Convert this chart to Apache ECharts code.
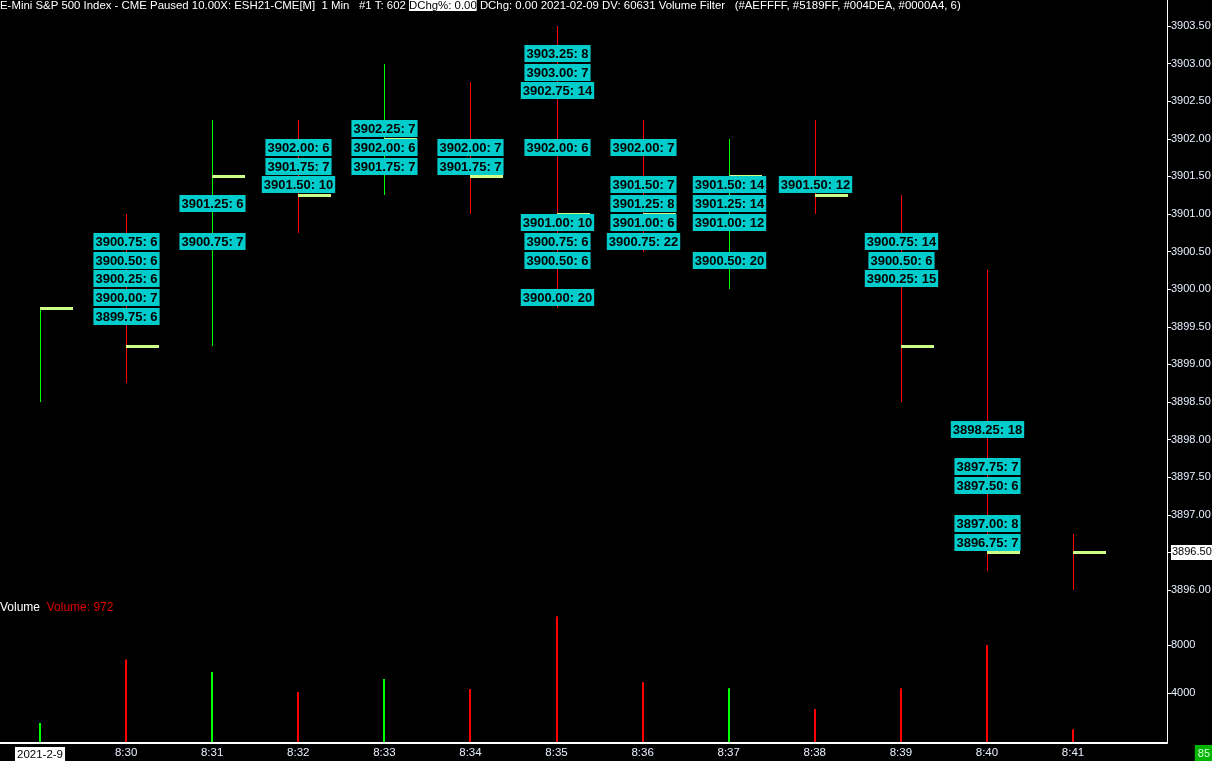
<!DOCTYPE html>
<html>
<head>
<meta charset="utf-8">
<script src="https://cdn.jsdelivr.net/npm/echarts@6/dist/echarts.min.js"></script>
<style>
html,body{margin:0;padding:0;background:#000;}
#chart{width:1212px;height:761px;}
</style>
</head>
<body>
<div id="chart"></div>
<script>
// ---- data ----
const times   = ['8:29','8:30','8:31','8:32','8:33','8:34','8:35','8:36','8:37','8:38','8:39','8:40','8:41'];
const dateLabel = '2021-2-9';
const highs   = [3899.75,3901.00,3902.25,3902.25,3903.00,3902.75,3903.50,3902.25,3902.00,3902.25,3901.25,3900.25,3896.75];
const lows    = [3898.50,3898.75,3899.25,3900.75,3901.25,3901.00,3899.75,3900.50,3900.00,3901.00,3898.50,3896.25,3896.00];
const closes  = [3899.75,3899.25,3901.50,3901.25,3902.00,3901.50,3901.00,3901.00,3901.50,3901.25,3899.25,3896.50,3896.50];
const upBar   = [1,0,1,0,1,0,0,0,1,0,0,0,0];
const volumes = [1500,6800,5750,4080,5170,4330,10400,4900,4400,2670,4400,8000,972];
// footprint cells: [bar index, price, volume at price]
const footprint = [
  [1,3900.75,6],[1,3900.50,6],[1,3900.25,6],[1,3900.00,7],[1,3899.75,6],
  [2,3901.25,6],[2,3900.75,7],
  [3,3902.00,6],[3,3901.75,7],[3,3901.50,10],
  [4,3902.25,7],[4,3902.00,6],[4,3901.75,7],
  [5,3902.00,7],[5,3901.75,7],
  [6,3903.25,8],[6,3903.00,7],[6,3902.75,14],[6,3902.00,6],[6,3901.00,10],[6,3900.75,6],[6,3900.50,6],[6,3900.00,20],
  [7,3902.00,7],[7,3901.50,7],[7,3901.25,8],[7,3901.00,6],[7,3900.75,22],
  [8,3901.50,14],[8,3901.25,14],[8,3901.00,12],[8,3900.50,20],
  [9,3901.50,12],
  [10,3900.75,14],[10,3900.50,6],[10,3900.25,15],
  [11,3898.25,18],[11,3897.75,7],[11,3897.50,6],[11,3897.00,8],[11,3896.75,7]
];
const priceTicks = [3896.0,3896.5,3897.0,3897.5,3898.0,3898.5,3899.0,3899.5,3900.0,3900.5,3901.0,3901.5,3902.0,3902.5,3903.0,3903.5];
const volumeTicks = [4000, 8000];
const lastPrice = 3896.50;
const lastVolume = 972;
const headerA = 'E-Mini S&P 500 Index - CME Paused 10.00X: ESH21-CME[M]  1 Min   #1 T: 602 ';
const headerB = 'DChg%: 0.00';
const headerC = ' DChg: 0.00 2021-02-09 DV: 60631 Volume Filter   (#AEFFFF, #5189FF, #004DEA, #0000A4, 6)';
const cornerValue = '85';

// ---- layout ----
const UP = '#00ff00', DOWN = '#ff0000', CLOSE_C = '#ccff88', CELL = '#00cccc';
const AXIS_TXT = '#e8f0ff';
const X_MIN = -0.4647, X_MAX = 13.0919;
const P_MIN = 3895.734, P_MAX = 3903.846;
const V_MIN = -167, V_MAX = 10917;

const chart = echarts.init(document.getElementById('chart'), null, {renderer: 'canvas'});

const candleData = times.map((t, i) => [i, highs[i], lows[i], closes[i], upBar[i]]);
const volData = times.map((t, i) => [i, volumes[i], upBar[i]]);

const option = {
  backgroundColor: '#000',
  animation: false,
  grid: [
    {left: 0, top: 0, width: 1167, height: 610, containLabel: false, outerBoundsMode: 'none'},
    {left: 0, top: 610, width: 1167, height: 133, containLabel: false, outerBoundsMode: 'none'}
  ],
  xAxis: [
    {gridIndex: 0, type: 'value', min: X_MIN, max: X_MAX, show: false, splitLine: {show: false}},
    {gridIndex: 1, type: 'value', min: X_MIN, max: X_MAX,
      splitLine: {show: false},
      axisLine: {show: true, onZero: false, lineStyle: {color: '#ffffff', width: 2}},
      axisTick: {show: false},
      axisLabel: {
        customValues: times.map((t, i) => i),
        showMinLabel: true, showMaxLabel: true,
        margin: 4,
        color: AXIS_TXT, fontFamily: 'Liberation Sans', fontSize: 11.5,
        formatter: function (v) {
          const i = Math.round(v);
          return i === 0 ? '{d|' + dateLabel + '}' : times[i];
        },
        rich: {
          d: {backgroundColor: '#ffffff', color: '#000', fontFamily: 'Liberation Sans', fontSize: 11.5, padding: [2, 2, 2, 2]}
        }
      }
    }
  ],
  yAxis: [
    {gridIndex: 0, type: 'value', position: 'right', min: P_MIN, max: P_MAX,
      splitLine: {show: false},
      axisLine: {show: true, onZero: false, lineStyle: {color: '#ffffff', width: 1}},
      axisTick: {show: true, customValues: priceTicks, length: 4, lineStyle: {color: '#ffffff'}},
      axisLabel: {
        customValues: priceTicks, margin: 4,
        color: AXIS_TXT, fontFamily: 'Liberation Sans', fontSize: 11,
        formatter: function (v) {
          const s = v.toFixed(2);
          return Math.abs(v - lastPrice) < 1e-6 ? '{h|' + s + '}' : s;
        },
        rich: {
          h: {backgroundColor: '#ffffff', color: '#000', fontFamily: 'Liberation Sans', fontSize: 11, padding: [2, 1, 2, 1]}
        }
      }
    },
    {gridIndex: 1, type: 'value', position: 'right', min: V_MIN, max: V_MAX,
      splitLine: {show: false},
      axisLine: {show: true, onZero: false, lineStyle: {color: '#ffffff', width: 1}},
      axisTick: {show: true, customValues: volumeTicks, length: 4, lineStyle: {color: '#ffffff'}},
      axisLabel: {
        customValues: volumeTicks, margin: 4,
        color: AXIS_TXT, fontFamily: 'Liberation Sans', fontSize: 11,
        formatter: function (v) { return String(Math.round(v)); }
      }
    }
  ],
  series: [
    {
      type: 'custom', name: 'bars', xAxisIndex: 0, yAxisIndex: 0,
      data: candleData,
      renderItem: function (params, api) {
        const i = api.value(0);
        const hi = api.coord([i, api.value(1)]);
        const lo = api.coord([i, api.value(2)]);
        const cl = api.coord([i, api.value(3)]);
        const col = api.value(4) ? UP : DOWN;
        const x = Math.round(hi[0]) + 0.5;
        return {
          type: 'group',
          children: [
            {type: 'line', shape: {x1: x, y1: Math.round(hi[1]), x2: x, y2: Math.round(lo[1])},
              style: {stroke: col, lineWidth: 1}},
            {type: 'line', shape: {x1: x - 0.5, y1: Math.round(cl[1]) + 0.5, x2: x + 32.5, y2: Math.round(cl[1]) + 0.5},
              style: {stroke: CLOSE_C, lineWidth: 3}}
          ]
        };
      }
    },
    {
      type: 'custom', name: 'footprint', xAxisIndex: 0, yAxisIndex: 0,
      data: footprint,
      z: 5,
      renderItem: function (params, api) {
        const i = api.value(0);
        const p = api.value(1);
        const n = api.value(2);
        const pt = api.coord([i, p]);
        return {
          type: 'text',
          x: Math.round(pt[0]) + 0.5,
          y: Math.round(pt[1]),
          style: {
            text: p.toFixed(2) + ': ' + n,
            align: 'center', verticalAlign: 'top',
            fontFamily: 'Liberation Sans', fontWeight: 'bold', fontSize: 13,
            lineHeight: 14,
            fill: '#000',
            backgroundColor: CELL,
            padding: [2, 2, 1, 2]
          }
        };
      }
    },
    {
      type: 'custom', name: 'volume', xAxisIndex: 1, yAxisIndex: 1,
      data: volData,
      renderItem: function (params, api) {
        const i = api.value(0);
        const top = api.coord([i, api.value(1)]);
        const base = api.coord([i, 0]);
        const col = api.value(2) ? UP : DOWN;
        const x = Math.round(top[0]);
        return {
          type: 'group',
          children: [
            {type: 'rect', shape: {x: x - 1, y: top[1], width: 2, height: base[1] - top[1]}, style: {fill: col}},
            {type: 'rect', shape: {x: x - 1, y: 736, width: 2, height: 6}, style: {fill: col}}
          ]
        };
      }
    }
  ],
  graphic: [
    {
      type: 'text', left: 0, top: 0,
      style: {
        text: headerA + '{h|' + headerB + '}' + headerC,
        fill: '#ffffff', fontFamily: 'Liberation Sans', fontSize: 11.4,
        rich: {h: {backgroundColor: '#ffffff', fill: '#000000', fontFamily: 'Liberation Sans', fontSize: 11.4}}
      }
    },
    {
      type: 'text', left: 0, top: 602,
      style: {
        text: 'Volume  {r|Volume: ' + lastVolume + '}',
        fill: '#ffffff', fontFamily: 'Liberation Sans', fontSize: 12,
        rich: {r: {fill: '#e00000', fontFamily: 'Liberation Sans', fontSize: 12}}
      }
    },
    {
      type: 'text', right: 0, bottom: 0,
      style: {
        text: cornerValue, fill: '#d8ffd8', fontFamily: 'Liberation Sans', fontSize: 11,
        backgroundColor: '#00b400', padding: [3, 2, 2, 3]
      }
    }
  ]
};
chart.setOption(option);
</script>
</body>
</html>
